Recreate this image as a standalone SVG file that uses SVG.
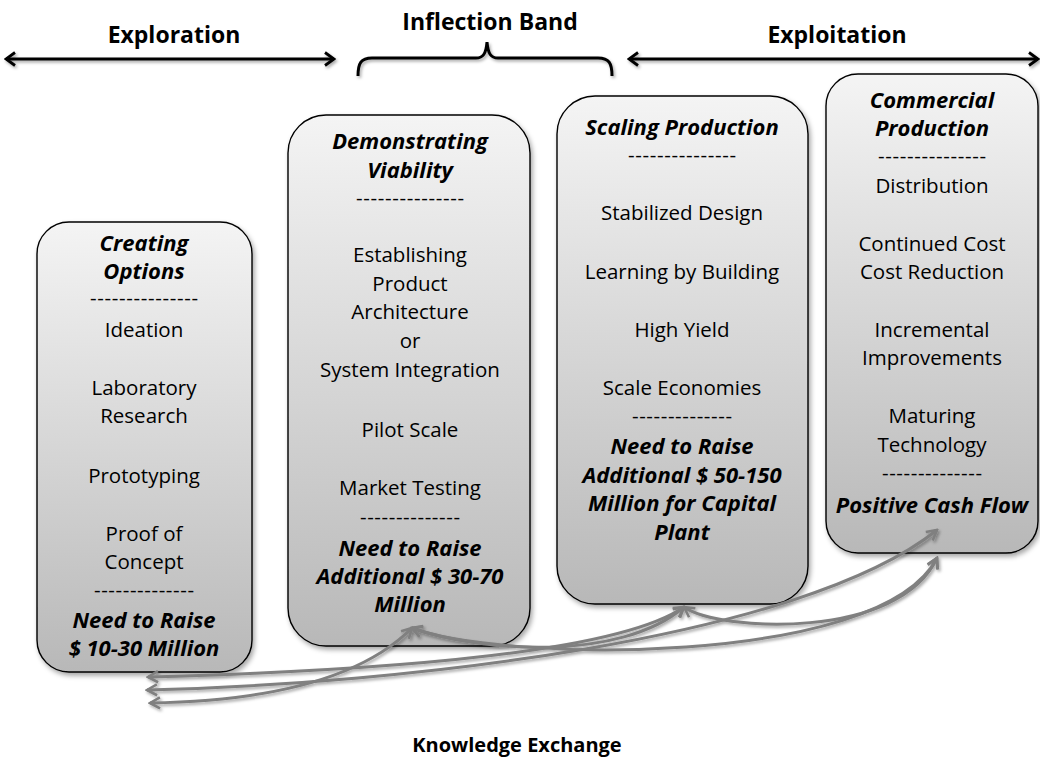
<svg xmlns="http://www.w3.org/2000/svg" width="1040" height="758" viewBox="0 0 1040 758">
<defs>
<linearGradient id="boxGrad" x1="0" y1="0" x2="0" y2="1">
<stop offset="0" stop-color="#f4f4f4"/>
<stop offset="1" stop-color="#b8b8b8"/>
</linearGradient>
<filter id="shadow" x="-10%" y="-10%" width="130%" height="130%">
<feDropShadow dx="2" dy="3" stdDeviation="2.5" flood-color="#000" flood-opacity="0.35"/>
</filter>
<filter id="lshadow" filterUnits="userSpaceOnUse" x="0" y="0" width="1040" height="758">
<feDropShadow dx="1.5" dy="2" stdDeviation="1.5" flood-color="#000" flood-opacity="0.35"/>
</filter>
<marker id="grayHead" viewBox="0 0 14 14" refX="12" refY="7" markerWidth="14" markerHeight="14" markerUnits="userSpaceOnUse" orient="auto-start-reverse">
<path d="M2,1.5 L12,7 L2,12.5" fill="none" stroke="#808080" stroke-width="2.6" stroke-linejoin="miter"/>
</marker>
<marker id="blackHead" viewBox="0 0 14 16" refX="12" refY="8" markerWidth="14" markerHeight="16" markerUnits="userSpaceOnUse" orient="auto-start-reverse">
<path d="M3,1.5 L12,8 L3,14.5" fill="none" stroke="#000" stroke-width="2.8"/>
</marker>
</defs>
<style>
.box{fill:url(#boxGrad);stroke:#000;stroke-width:1.4;filter:url(#shadow)}
.t{font-family:"Open Sans","Liberation Sans",sans-serif;font-size:20.5px;fill:#000;text-anchor:middle}
.h{font-weight:bold;font-style:italic;font-size:22px}
.title{font-family:"Open Sans","Liberation Sans",sans-serif;font-size:23px;font-weight:bold;fill:#000;text-anchor:middle}
.foot{font-size:20px}
.conn{fill:none;stroke:#808080;stroke-width:3;marker-start:url(#grayHead);marker-end:url(#grayHead)}
.top{fill:none;stroke:#000;stroke-width:3;marker-start:url(#blackHead);marker-end:url(#blackHead)}
</style>
<rect width="1040" height="758" fill="#fff"/>

<g id="header">
<text class="title" x="174" y="43">Exploration</text>
<text class="title" x="490" y="30">Inflection Band</text>
<text class="title" x="837" y="43">Exploitation</text>
<g filter="url(#lshadow)">
<path class="top" d="M6,59 L334,59"/>
<path class="top" d="M629,59 L1038,59"/>
<path d="M358,76 C358,63 361,58 372,58 L476,58 C483,58 486,54 487,42 C488,54 491,58 498,58 L598,58 C609,58 612,63 612,76" fill="none" stroke="#000" stroke-width="3"/>
</g>
</g>

<g id="node-creating">
<rect class="box" x="37" y="222" width="215" height="450" rx="32"/>
<text class="t h" x="144" y="251">Creating</text>
<text class="t h" x="144" y="279">Options</text>
<text class="t" x="144" y="305" textLength="108" lengthAdjust="spacing">---------------</text>
<text class="t" x="144" y="337">Ideation</text>
<text class="t" x="144" y="395">Laboratory</text>
<text class="t" x="144" y="423">Research</text>
<text class="t" x="144" y="483">Prototyping</text>
<text class="t" x="144" y="541">Proof of</text>
<text class="t" x="144" y="569">Concept</text>
<text class="t" x="144" y="597" textLength="100" lengthAdjust="spacing">--------------</text>
<text class="t h" x="144" y="628">Need to Raise</text>
<text class="t h" x="144" y="656">$ 10-30 Million</text>
</g>

<g id="node-demonstrating">
<rect class="box" x="288" y="115" width="242" height="531" rx="38"/>
<text class="t h" x="410" y="149">Demonstrating</text>
<text class="t h" x="410" y="178">Viability</text>
<text class="t" x="410" y="205" textLength="108" lengthAdjust="spacing">---------------</text>
<text class="t" x="410" y="262">Establishing</text>
<text class="t" x="410" y="291">Product</text>
<text class="t" x="410" y="319">Architecture</text>
<text class="t" x="410" y="348">or</text>
<text class="t" x="410" y="377">System Integration</text>
<text class="t" x="410" y="437">Pilot Scale</text>
<text class="t" x="410" y="495">Market Testing</text>
<text class="t" x="410" y="524" textLength="100" lengthAdjust="spacing">--------------</text>
<text class="t h" x="410" y="556">Need to Raise</text>
<text class="t h" x="410" y="584">Additional $ 30-70</text>
<text class="t h" x="410" y="612">Million</text>
</g>

<g id="node-scaling">
<rect class="box" x="557" y="96" width="251" height="508" rx="38"/>
<text class="t h" x="682" y="135">Scaling Production</text>
<text class="t" x="682" y="162" textLength="108" lengthAdjust="spacing">---------------</text>
<text class="t" x="682" y="220">Stabilized Design</text>
<text class="t" x="682" y="279">Learning by Building</text>
<text class="t" x="682" y="337">High Yield</text>
<text class="t" x="682" y="395">Scale Economies</text>
<text class="t" x="682" y="423" textLength="100" lengthAdjust="spacing">--------------</text>
<text class="t h" x="682" y="454">Need to Raise</text>
<text class="t h" x="682" y="483">Additional $ 50-150</text>
<text class="t h" x="682" y="511">Million for Capital</text>
<text class="t h" x="682" y="540">Plant</text>
</g>

<g id="node-commercial">
<rect class="box" x="826" y="74" width="212" height="479" rx="32"/>
<text class="t h" x="932" y="108">Commercial</text>
<text class="t h" x="932" y="136">Production</text>
<text class="t" x="932" y="163" textLength="108" lengthAdjust="spacing">---------------</text>
<text class="t" x="932" y="193">Distribution</text>
<text class="t" x="932" y="251">Continued Cost</text>
<text class="t" x="932" y="279">Cost Reduction</text>
<text class="t" x="932" y="337">Incremental</text>
<text class="t" x="932" y="365">Improvements</text>
<text class="t" x="932" y="423">Maturing</text>
<text class="t" x="932" y="452">Technology</text>
<text class="t" x="932" y="480" textLength="100" lengthAdjust="spacing">--------------</text>
<text class="t h" x="932" y="513">Positive Cash Flow</text>
</g>

<g id="connectors" filter="url(#lshadow)">
<path class="conn" d="M150,703 Q340,700 412,628"/>
<path class="conn" d="M148,677 Q600,665 684,607"/>
<path class="conn" d="M147,690 C400,684 800,640 937,530"/>
<path class="conn" d="M412,628 C480,652 620,662 684,607"/>
<path class="conn" d="M412,628 C500,662 880,668 937,558"/>
<path class="conn" d="M684,607 C720,632 900,640 937,558"/>
</g>

<g id="footer">
<text class="title foot" x="517" y="752">Knowledge Exchange</text>
</g>
</svg>
